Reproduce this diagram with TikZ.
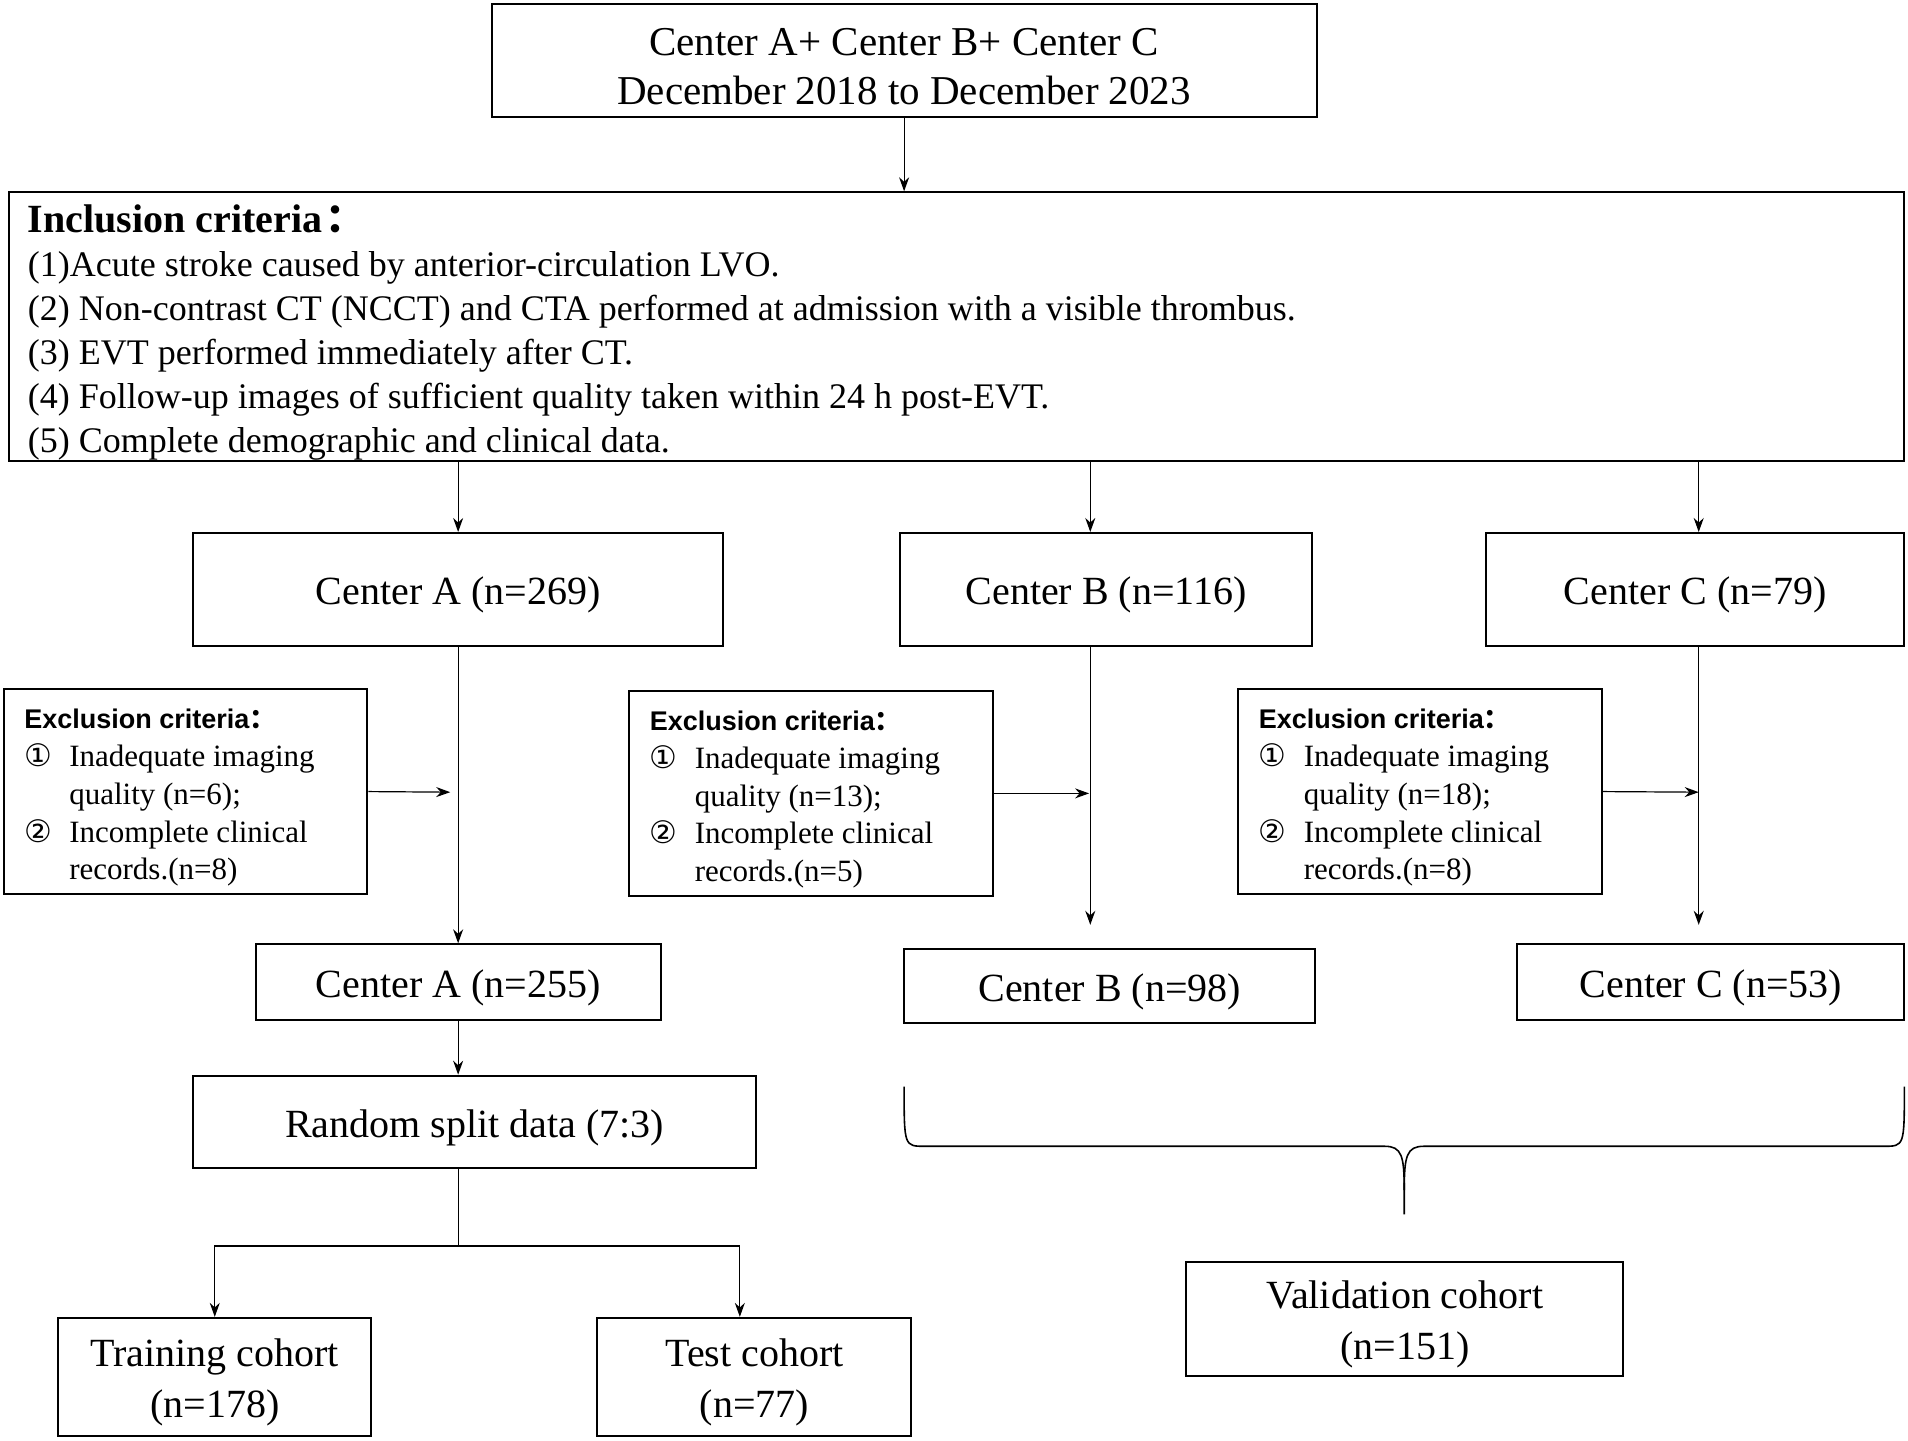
\documentclass[tikz,border=0pt]{standalone}
\usepackage{fontspec}
\setmainfont{Liberation Serif}
\newfontfamily\headfont{Liberation Sans}
\newfontfamily\symfont{DejaVu Sans}
\newfontfamily\cjkfont{Noto Sans CJK SC}
\usetikzlibrary{arrows.meta}

% one pixel of the layout grid
\newcommand{\dpx}{0.6085pt}
\newcommand{\fcolon}{{\cjkfont ：}}
\newcommand{\numitem}[1]{\makebox[22.5pt][l]{\symfont #1}}
\newcommand{\exclbody}[2]{{\headfont\bfseries\fontsize{13.5}{19}\selectfont Exclusion criteria\fcolon}\\
\numitem{①}Inadequate imaging\\
\hspace*{22.5pt}quality (n=#1);\\
\numitem{②}Incomplete clinical\\
\hspace*{22.5pt}records.(n=#2)}

\tikzset{size/.style 2 args={text width=#1*\dpx, minimum width=#1*\dpx, minimum height=#2*\dpx}}

\begin{document}
\begin{tikzpicture}[x=0.6085pt, y=-0.6085pt, >={Stealth[length=7pt,width=5pt]}]
        \tikzstyle{every node}=[font=\fontsize{20}{25.5}\selectfont]
        \tikzstyle{box}=[rectangle, draw, line width=1pt, align=flush center, inner sep=0pt,
            execute at begin node={\rule{0pt}{19.5pt}}]
        \tikzstyle{exclbox}=[rectangle, draw, line width=1pt, align=flush left, inner ysep=0pt,
            inner xsep=17*\dpx, text width=265*\dpx, font=\fontsize{15.5}{18.9}\selectfont,
            execute at begin node={\rule{0pt}{16pt}}]
        \tikzstyle{link}=[line width=0.6pt]

        \useasboundingbox (0,0) rectangle (1568,1183.5);

        % Nodes
        \node (sources) [box, size={678}{93}, font=\fontsize{20.5}{24.5}\selectfont] at (743,49.5)
            {Center A+ Center B+ Center C\\December 2018 to December 2023};
        \node (inclusion) [box, align=flush left, inner xsep=16*\dpx, text width=1526*\dpx, minimum height=221*\dpx,
            font=\fontsize{18}{22}\selectfont, execute at begin node={\rule{0pt}{20pt}}] at (786,268.5)
            {{\fontsize{20}{22}\selectfont\bfseries Inclusion criteria\kern1.5pt\fcolon}\\
            (1)Acute stroke caused by anterior-circulation LVO.\\
            (2) Non-contrast CT (NCCT) and CTA performed at admission with a visible thrombus.\\
            (3) EVT performed immediately after CT.\\
            (4) Follow-up images of sufficient quality taken within 24 h post-EVT.\\
            (5) Complete demographic and clinical data.};

        \node (centerA) [box, size={435}{93}] at (376.5,484.5) {Center A (n=269)};
        \node (centerB) [box, size={338}{93}] at (909,484.5) {Center B (n=116)};
        \node (centerC) [box, size={344}{93}] at (1393,484.5) {Center C (n=79)};

        \node (exclA) [exclbox, minimum height=169*\dpx] at (152.5,650.5) {\exclbody{6}{8}};
        \node (exclB) [exclbox, minimum height=168*\dpx] at (666.5,652) {\exclbody{13}{5}};
        \node (exclC) [exclbox, minimum height=169*\dpx] at (1167,650.5) {\exclbody{18}{8}};

        \node (keptA) [box, size={333}{62}] at (376.5,807) {Center A (n=255)};
        \node (keptB) [box, size={338}{61}] at (912,810.5) {Center B (n=98)};
        \node (keptC) [box, size={318}{62}] at (1406,807) {Center C (n=53)};

        \node (split) [box, size={462}{76}] at (390,922) {Random split data (7:3)};
        \node (training) [box, size={257}{97}] at (176.5,1131.5) {Training cohort\\(n=178)};
        \node (test) [box, size={258}{97}] at (620,1131.5) {Test cohort\\(n=77)};
        \node (validation) [box, size={359}{94}] at (1154.5,1084) {Validation cohort\\(n=151)};

        % free ends
        \coordinate (joinA) at (370,651);
        \coordinate (joinB) at (895,652);
        \coordinate (joinC) at (1396,651);
        \coordinate (endB) at (896,760);
        \coordinate (endC) at (1396,760);
        \coordinate (fork) at (377,1024);
        \coordinate (forkR) at (608,1024);

        % Edges
        \draw[link, ->] (sources.south) -- (sources.south |- inclusion.north);
        \draw[link, ->] (inclusion.south -| centerA.north) -- (centerA.north);
        \draw[link, ->] (inclusion.south -| endB) -- (centerB.north -| endB);
        \draw[link, ->] (inclusion.south -| endC) -- (centerC.north -| endC);

        \draw[link, ->] (centerA.south) -- (keptA.north);
        \draw[link, ->] (centerB.south -| endB) -- (endB);
        \draw[link, ->] (centerC.south -| endC) -- (endC);
        \draw[link, ->] (exclA.east) -- (joinA);
        \draw[link, ->] (exclB.east) -- (joinB);
        \draw[link, ->] (exclC.east) -- (joinC);

        \draw[link, ->] (keptA.south) -- (keptA.south |- split.north);
        \draw[link] (split.south -| fork) -- (fork);
        \draw[link, ->] (fork) -| (training.north);
        \draw[link, ->] (fork) -- (forkR) -- (forkR |- test.north);

        % brace over the external centers
        \draw[line width=0.8pt] (743,893) .. controls (743,942) and (743,942) .. (760,942) -- (1138,942)
            .. controls (1152,942) and (1154,950) .. (1154,978) -- (1154,998);
        \draw[line width=0.8pt] (1565,893) .. controls (1565,942) and (1565,942) .. (1548,942) -- (1170,942)
            .. controls (1156,942) and (1154,950) .. (1154,978);

\end{tikzpicture}
\end{document}
